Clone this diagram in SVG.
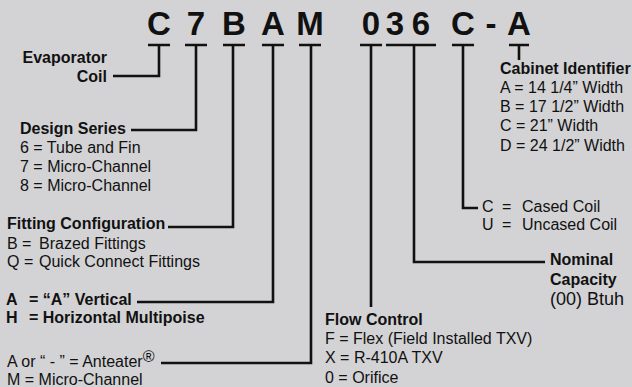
<svg xmlns="http://www.w3.org/2000/svg" width="632" height="387" viewBox="0 0 632 387">
<style>
text{font-family:"Liberation Sans",Arial,sans-serif;fill:#111;font-size:16px}
.b{font-weight:bold}
.big{font-weight:bold;font-size:33px;text-anchor:middle}
.r{text-anchor:end}
.c{fill:none;stroke:#111;stroke-width:2.6}
</style>
<rect width="632" height="387" fill="#d3d3d5"/>
<g id="code">
<text class="big" x="159" y="35">C</text>
<text class="big" x="196" y="35">7</text>
<text class="big" x="234" y="35">B</text>
<text class="big" x="273" y="35">A</text>
<text class="big" x="310" y="35">M</text>
<text class="big" x="371" y="35">0</text>
<text class="big" x="395" y="35">3</text>
<text class="big" x="421" y="35">6</text>
<text class="big" x="463" y="35">C</text>
<text class="big" x="491" y="35">-</text>
<text class="big" x="519" y="35">A</text>
</g>
<g id="connectors">
<path class="c" d="M148 45H170M159 45V76H113"/>
<path class="c" d="M185 45H207M196 45V130H131"/>
<path class="c" d="M223 45H245M233 45V227H168"/>
<path class="c" d="M262 45H284M273 45V302H137"/>
<path class="c" d="M299 45H321M311 45V363H161"/>
<path class="c" d="M360 45H382M371 45V307"/>
<path class="c" d="M386 45H436M414 45V262H545"/>
<path class="c" d="M452 45H474M463 45V208H478"/>
<path class="c" d="M509 45H529M519 45V60"/>
</g>
<g id="evaporator-coil">
<text class="b r" x="107" y="63">Evaporator</text>
<text class="b r" x="107" y="82">Coil</text>
</g>
<g id="design-series">
<text class="b" x="20" y="134">Design Series</text>
<text x="20" y="153">6 = Tube and Fin</text>
<text x="20" y="172">7 = Micro-Channel</text>
<text x="20" y="191">8 = Micro-Channel</text>
</g>
<g id="fitting-configuration">
<text class="b" x="7" y="229">Fitting Configuration</text>
<text x="7" y="249">B = <tspan x="39">Brazed Fittings</tspan></text>
<text x="7" y="267">Q = <tspan x="39">Quick Connect Fittings</tspan></text>
</g>
<g id="orientation">
<text class="b" x="6" y="305">A<tspan x="29">= “A” Vertical</tspan></text>
<text class="b" x="6" y="323">H<tspan x="29">= Horizontal Multipoise</tspan></text>
</g>
<g id="coil-type">
<text x="7" y="367">A or “ - ” = Anteater<tspan dy="-5">®</tspan></text>
<text x="7" y="385">M = Micro-Channel</text>
</g>
<g id="flow-control">
<text class="b" x="325" y="325">Flow Control</text>
<text x="325" y="344">F = Flex (Field Installed TXV)</text>
<text x="325" y="363">X = R-410A TXV</text>
<text x="325" y="383">0 = Orifice</text>
</g>
<g id="nominal-capacity">
<text class="b" x="550" y="265">Nominal</text>
<text class="b" x="550" y="285">Capacity</text>
<text x="550" y="305" style="font-size:18px">(00) Btuh</text>
</g>
<g id="cased">
<text x="482" y="212">C<tspan x="502">=</tspan><tspan x="522">Cased Coil</tspan></text>
<text x="482" y="230">U<tspan x="502">=</tspan><tspan x="522">Uncased Coil</tspan></text>
</g>
<g id="cabinet-identifier">
<text class="b" x="500" y="74">Cabinet Identifier</text>
<text x="500" y="93">A = 14 1/4” Width</text>
<text x="500" y="112">B = 17 1/2” Width</text>
<text x="500" y="131">C = 21” Width</text>
<text x="500" y="151">D = 24 1/2” Width</text>
</g>
</svg>
